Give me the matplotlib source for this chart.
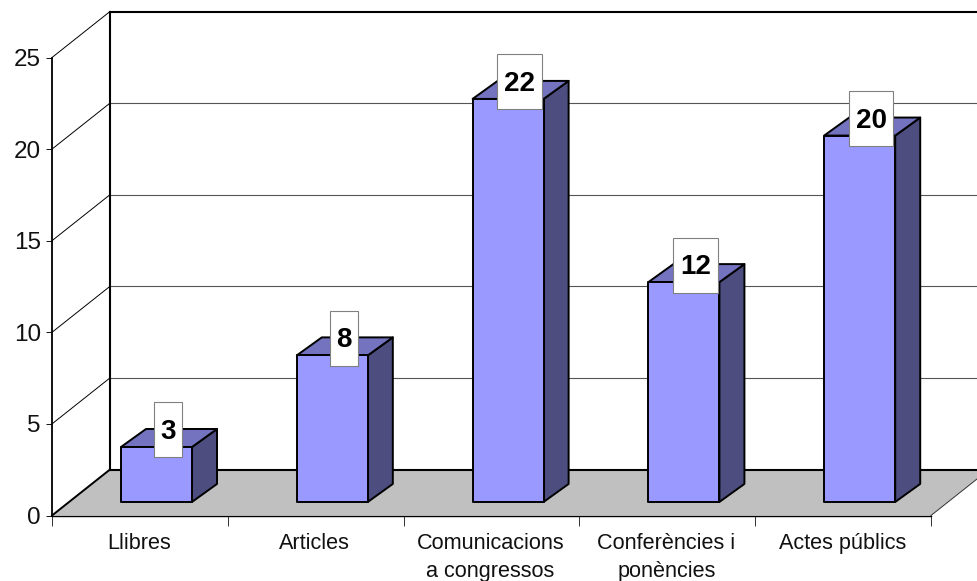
import matplotlib
matplotlib.use("Agg")
import matplotlib.pyplot as plt
from matplotlib.patches import Polygon, Rectangle

plt.rcParams['font.family'] = ['Liberation Sans', 'DejaVu Sans']

categories = ["Llibres", "Articles", "Comunicacions\na congressos", "Conferències i\nponències", "Actes públics"]
values = [3, 8, 22, 12, 20]
y_ticks = [0, 5, 10, 15, 20, 25]

W, H = 977, 581
# 3d look, sizes in data units
wall_dx = 58 / 175.8
wall_dy = 46 / 18.32
bar_left = 0.3925
bar_w = 0.404
bar_base = 0.74
bar_dx = 25 / 175.8
bar_dy = 18 / 18.32

fig = plt.figure(figsize=(W / 100, H / 100), dpi=100)
ax = fig.add_axes([52 / W, (H - 515.5) / H, 879 / W, 458 / H])
ax.set_xlim(0, 5)
ax.set_ylim(0, 25)
ax.patch.set_visible(False)

ax.spines['top'].set_visible(False)
ax.spines['right'].set_visible(False)
ax.spines['left'].set_linewidth(1.3)
ax.spines['bottom'].set_linewidth(1.0)

ax.set_yticks(y_ticks)
ax.tick_params(axis='y', labelsize=17.5, length=4, width=0.7, pad=4, colors='#111111')
ax.set_xticks(range(6))
ax.tick_params(axis='x', length=7, width=0.7, labelbottom=False, color='#333333')

# floor
floor = Polygon([(0, 0), (wall_dx, wall_dy), (5 + wall_dx, wall_dy), (5, 0)],
                closed=True, fc='#c0c0c0', ec='none', zorder=1, clip_on=False)
ax.add_patch(floor)

# walls and grid
for v in y_ticks[1:-1]:
    ax.plot([wall_dx, 5 + wall_dx], [v + wall_dy] * 2, color='#555555', lw=0.8, zorder=1.5, clip_on=False)
for v in y_ticks[1:]:
    ax.plot([0, wall_dx], [v, v + wall_dy], color='black', lw=0.7, zorder=1.5, clip_on=False)
ax.plot([0, wall_dx], [0, wall_dy], color='black', lw=1.4, zorder=2, clip_on=False)
ax.plot([wall_dx, wall_dx], [wall_dy, 25 + wall_dy], color='black', lw=1.5, zorder=2, clip_on=False)
ax.plot([wall_dx, 5 + wall_dx], [25 + wall_dy] * 2, color='black', lw=1.5, zorder=2, clip_on=False)
ax.plot([wall_dx, 5 + wall_dx], [wall_dy] * 2, color='black', lw=1.5, zorder=2, clip_on=False)
ax.plot([5, 5 + wall_dx], [0, wall_dy], color='#333333', lw=0.7, zorder=1.2, clip_on=False)

# bars
for i, v in enumerate(values):
    x0 = i + bar_left
    x1 = x0 + bar_w
    y0 = bar_base
    y1 = bar_base + v
    top = [(x0, y1), (x0 + bar_dx, y1 + bar_dy), (x1 + bar_dx, y1 + bar_dy), (x1, y1)]
    side = [(x1, y0), (x1 + bar_dx, y0 + bar_dy), (x1 + bar_dx, y1 + bar_dy), (x1, y1)]
    front = [(x0, y0), (x0, y1), (x1, y1), (x1, y0)]
    ax.add_patch(Polygon(side, fc='#4d4d80', ec='black', lw=1.4, zorder=3, joinstyle='round', clip_on=False))
    ax.add_patch(Polygon(top, fc='#7373bf', ec='black', lw=1.4, zorder=3, joinstyle='round', clip_on=False))
    ax.add_patch(Polygon(front, fc='#9999ff', ec='black', lw=1.4, zorder=3.1, joinstyle='round', clip_on=False))

    # value label box
    cx = x0 + bar_w / 2 + 11.5 / 175.8
    cy = y1 + 17 / 18.32
    box_w = (12.5 + 16 * len(str(v))) / 175.8
    box_h = 55 / 18.32
    ax.add_patch(Rectangle((cx - box_w / 2, cy - box_h / 2), box_w, box_h, fc='white', ec='#808080',
                           lw=0.8, zorder=5, clip_on=False))
    ax.text(cx, cy + 1 / 18.32, str(v), ha='center', va='center_baseline', fontsize=20, fontweight='bold',
            color='black', zorder=6)

# category labels, drawn by hand for the line spacing
for i, label in enumerate(categories):
    ax.annotate(label, xy=(i + 0.5, 0), xycoords='data', xytext=(-0.7, -12.5), textcoords='offset points',
                ha='center', va='top', fontsize=15.6, linespacing=1.44, color='#111111',
                annotation_clip=False)

fig.savefig("out.png", dpi=100)
